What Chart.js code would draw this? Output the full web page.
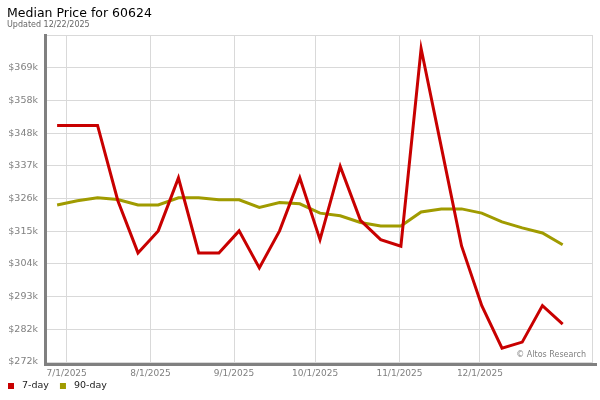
<!DOCTYPE html>
<html>
<head>
<meta charset="utf-8">
<title>Median Price for 60624</title>
<script src="https://cdn.jsdelivr.net/npm/chart.js@4.4.1/dist/chart.umd.min.js"></script>
<style>
  html, body { margin: 0; padding: 0; background: #fff; }
</style>
</head>
<body>
<canvas id="medianPrice" width="600" height="400"></canvas>
<script>
// weekly readings, left to right (0 = last week of June 2025)
const weekIndex = [0, 1, 2, 3, 4, 5, 6, 7, 8, 9, 10, 11, 12, 13, 14, 15, 16, 17, 18, 19, 20, 21, 22, 23, 24, 25];

// median price, 7-day window (dollars)
const sevenDay = [350100, 350100, 350100, 325200, 307800, 315100, 332700, 307800, 307800, 315100, 302800, 315100, 332700,
                  312200, 336500, 318600, 312200, 310000, 375600, 342900, 310100, 290300, 276200, 278200, 290300, 284200];

// median price, 90-day window (dollars)
const ninetyDay = [323700, 325100, 326100, 325500, 323700, 323700, 326100, 326100, 325400, 325400, 322900, 324500, 324100,
                   321000, 320100, 317900, 316700, 316700, 321400, 322400, 322400, 321000, 318100, 316100, 314400, 310500];

// month gridlines, in week units
const monthTickPos = [0.47, 4.62, 8.75, 12.76, 16.93, 20.91];
const monthTickLabels = ['7/1/2025', '8/1/2025', '9/1/2025', '10/1/2025', '11/1/2025', '12/1/2025'];

// price axis: 11 evenly spaced ticks, top one unlabelled
const yTickLabels = ['$272k', '$282k', '$293k', '$304k', '$315k', '$326k', '$337k', '$348k', '$358k', '$369k', ''];

Chart.defaults.font.family = '"DejaVu Sans", Verdana, sans-serif';

// light right edge, dark drop shadow, watermark and the little legend under the axis
const framePlugin = {
  id: 'frame',
  beforeDatasetsDraw(chart) {
    const {ctx, chartArea: a} = chart;
    ctx.save();
    ctx.fillStyle = '#d9d9d9';
    ctx.fillRect(a.right - 1, a.top, 1, a.bottom - a.top);
    ctx.restore();
  },
  afterDraw(chart) {
    const {ctx, chartArea: a} = chart;
    ctx.save();
    ctx.fillStyle = '#808080';
    ctx.fillRect(a.left - 3, a.top - 1, 3, a.bottom - a.top + 5);
    ctx.fillRect(a.left - 3, a.bottom + 1, a.right - a.left + 7, 3);

    ctx.font = '8px "DejaVu Sans"';
    ctx.fillStyle = '#808080';
    ctx.textAlign = 'right';
    ctx.textBaseline = 'alphabetic';
    ctx.fillText('\u00a9 Altos Research', a.right - 7, a.bottom - 5);

    // legend
    ctx.font = '9.5px "DejaVu Sans"';
    ctx.textAlign = 'left';
    ctx.textBaseline = 'middle';
    let x = 8;
    chart.data.datasets.forEach(ds => {
      ctx.fillStyle = ds.borderColor;
      ctx.fillRect(x, 383, 6, 6);
      ctx.fillStyle = '#222';
      ctx.fillText(ds.label, x + 14, 386);
      x += 14 + ctx.measureText(ds.label).width + 11;
    });
    ctx.restore();
  }
};

new Chart(document.getElementById('medianPrice'), {
  type: 'line',
  data: {
    datasets: [
      {
        label: '7-day',
        data: weekIndex.map((w, i) => ({x: w, y: sevenDay[i]})),
        borderColor: '#c80000',
        backgroundColor: '#c80000',
        borderWidth: 3,
        pointRadius: 0,
        tension: 0,
        fill: false
      },
      {
        label: '90-day',
        data: weekIndex.map((w, i) => ({x: w, y: ninetyDay[i]})),
        borderColor: '#a09b00',
        backgroundColor: '#a09b00',
        borderWidth: 3,
        pointRadius: 0,
        tension: 0,
        fill: false
      }
    ]
  },
  options: {
    responsive: false,
    animation: false,
    devicePixelRatio: 1,
    layout: { padding: { left: 7, right: 7, top: 0, bottom: 0 } },
    plugins: {
      legend: { display: false },
      tooltip: { enabled: false },
      title: {
        display: true,
        text: 'Median Price for 60624',
        align: 'start',
        color: '#000',
        font: { size: 12.5, weight: 'normal', lineHeight: 1.2 },
        padding: { top: 6, bottom: 0 }
      },
      subtitle: {
        display: true,
        text: 'Updated 12/22/2025',
        align: 'start',
        color: '#666',
        font: { size: 8, weight: 'normal', lineHeight: 1 },
        padding: { top: 0, bottom: 6 }
      }
    },
    scales: {
      x: {
        type: 'linear',
        min: -0.5,
        max: 26.5,
        border: { display: false },
        grid: { color: '#d9d9d9', lineWidth: 1, drawTicks: false },
        afterBuildTicks: scale => { scale.ticks = monthTickPos.map(v => ({value: v})); },
        afterFit: scale => { scale.height = 38; },
        ticks: {
          autoSkip: false,
          maxRotation: 0,
          padding: 6,
          color: '#808080',
          font: { size: 9 },
          callback: (v, i) => monthTickLabels[i]
        }
      },
      y: {
        min: 271600,
        max: 380100,
        border: { display: false },
        grid: { color: '#d9d9d9', lineWidth: 1, drawTicks: false },
        afterFit: scale => { scale.width = 40; },
        ticks: {
          count: 11,
          padding: 9,
          color: '#808080',
          font: { size: 9.5 },
          callback: (v, i) => yTickLabels[i]
        }
      }
    }
  },
  plugins: [framePlugin]
});
</script>
</body>
</html>
